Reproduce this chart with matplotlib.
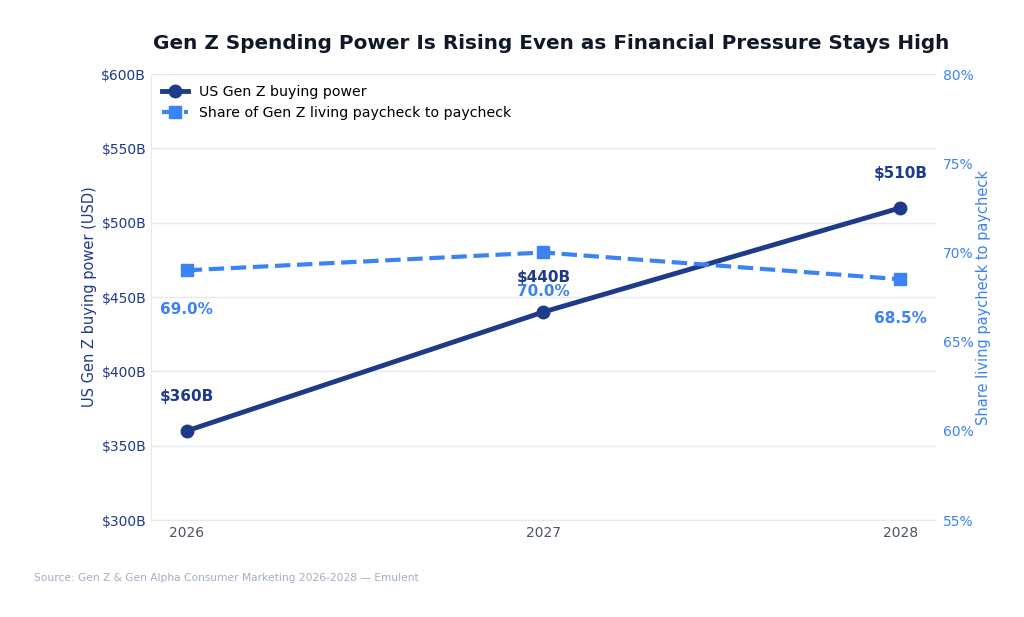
import matplotlib
matplotlib.use("Agg")
import matplotlib.pyplot as plt
from matplotlib.ticker import FuncFormatter

years = [2026, 2027, 2028]
buying_power = [360, 440, 510]      # $B
paycheck_share = [69.0, 70.0, 68.5]  # %

dark = "#1e3a8a"
light = "#3b82f6"
grid_c = "#e5e9f2"

fig = plt.figure(figsize=(10.24, 6.17), dpi=100)
ax = fig.add_axes([0.1475, 0.157, 0.7665, 0.723])
ax2 = ax.twinx()

l1, = ax.plot(years, buying_power, color=dark, lw=3.5, marker="o", ms=9,
              label="US Gen Z buying power", zorder=3)
l2, = ax2.plot(years, paycheck_share, color=light, lw=3, ls="--", marker="s",
               ms=8, label="Share of Gen Z living paycheck to paycheck", zorder=3)

for x, v in zip(years, buying_power):
    ax.annotate(f"${v}B", (x, v), xytext=(0, 25), textcoords="offset points",
                ha="center", va="center", color=dark, fontsize=11, fontweight="bold")
for x, v in zip(years, paycheck_share):
    ax2.annotate(f"{v:.1f}%", (x, v), xytext=(0, -28), textcoords="offset points",
                 ha="center", va="center", color=light, fontsize=11, fontweight="bold")

ax.set_xlim(2025.9, 2028.1)
ax.set_ylim(300, 600)
ax2.set_ylim(55, 80)
ax.set_xticks(years)
ax.set_xticklabels([str(y) for y in years])
ax.set_yticks(range(300, 601, 50))
ax.yaxis.set_major_formatter(FuncFormatter(lambda v, p: f"${v:.0f}B"))
ax2.set_yticks(range(55, 81, 5))
ax2.yaxis.set_major_formatter(FuncFormatter(lambda v, p: f"{v:.0f}%"))

ax.grid(axis="y", color=grid_c, lw=1)
ax.set_axisbelow(True)
for a in (ax, ax2):
    for s in ("top", "right", "left", "bottom"):
        a.spines[s].set_visible(False)
ax.spines["left"].set_visible(True)
ax.spines["left"].set_color(grid_c)
ax.spines["bottom"].set_visible(True)
ax.spines["bottom"].set_color(grid_c)

ax.tick_params(axis="y", colors=dark, labelsize=10, length=0, pad=3.5)
ax.tick_params(axis="x", colors="#4b5563", labelsize=10, length=0, pad=4)
ax2.tick_params(axis="y", colors=light, labelsize=10, length=0, pad=5)

ax.set_ylabel("US Gen Z buying power (USD)", color=dark, fontsize=10.5, labelpad=3)
ax2.set_ylabel("Share living paycheck to paycheck", color=light, fontsize=10.5, labelpad=1.5)

ax.legend(handles=[l1, l2], loc="upper left", frameon=False, fontsize=10.2,
          handlelength=1.8, borderaxespad=0.4)

fig.suptitle("Gen Z Spending Power Is Rising Even as Financial Pressure Stays High",
             x=0.538, y=0.945, fontsize=14.4, fontweight="bold", color="#111827")
fig.text(0.033, 0.058, "Source: Gen Z & Gen Alpha Consumer Marketing 2026-2028 — Emulent",
         fontsize=7.7, color="#a0aec0")

fig.savefig("out.png", dpi=100)
